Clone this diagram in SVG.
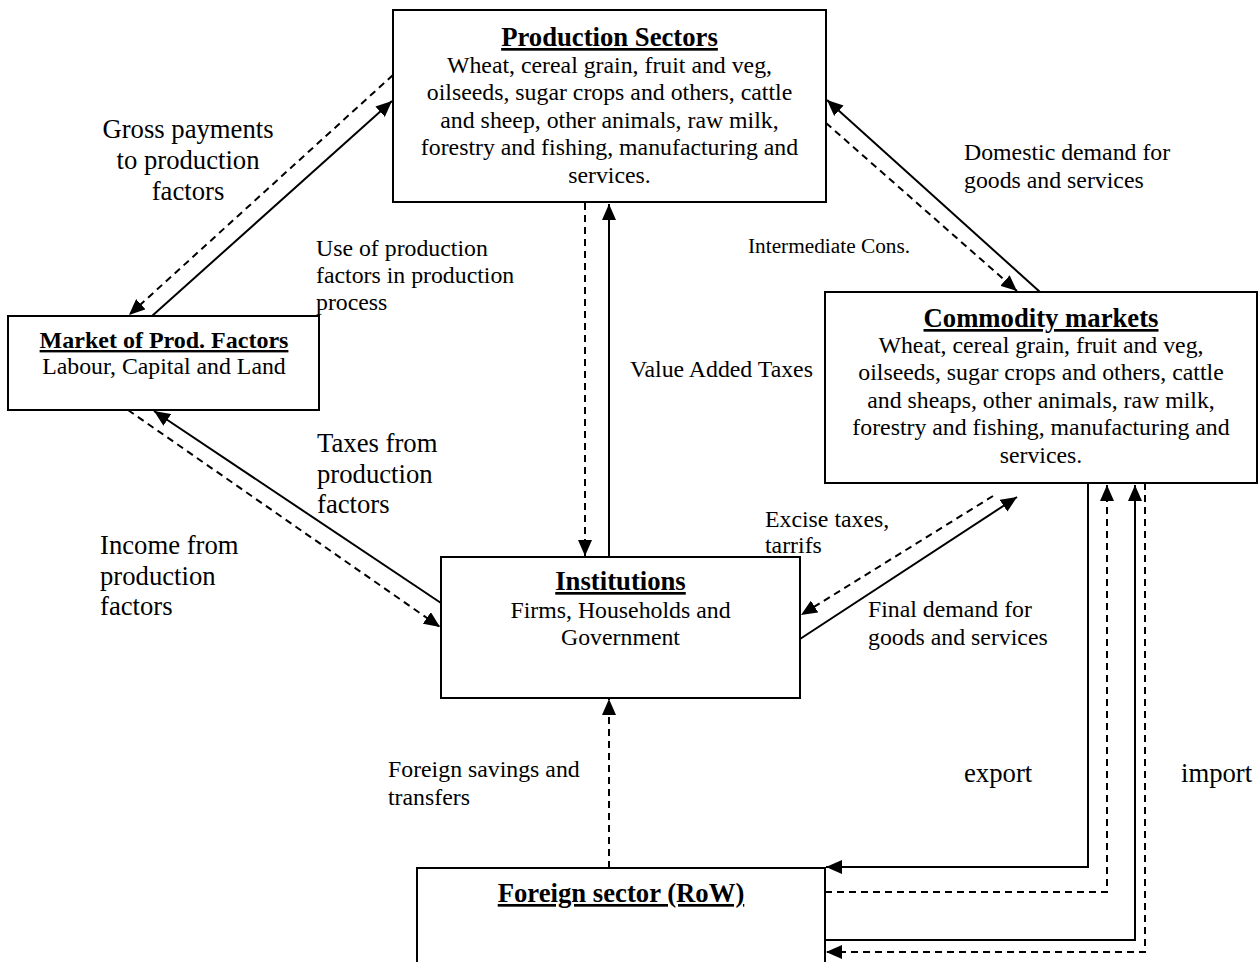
<svg xmlns="http://www.w3.org/2000/svg" width="1259" height="962" viewBox="0 0 1259 962">
<defs>
<style>
.box{fill:#fff;stroke:#000;stroke-width:2}
.ln{fill:none;stroke:#000;stroke-width:2}
.ds{fill:none;stroke:#000;stroke-width:2;stroke-dasharray:7,5}
text{font-family:"Liberation Serif","Times New Roman",serif;fill:#000}
.t{font-weight:bold;font-size:26.7px;text-decoration:underline}
.b{font-size:23.8px}
.l{font-size:26.7px}
.m{font-size:23.8px}
.s{font-size:21.3px}
</style>
<marker id="ah" markerUnits="userSpaceOnUse" markerWidth="18" markerHeight="14" refX="16" refY="7" orient="auto">
<path d="M0,0 L16,7 L0,14 z" fill="#000"/>
</marker>
</defs>
<rect width="1259" height="962" fill="#fff"/>
<g id="connectors">
<line class="ds" x1="393" y1="75" x2="129" y2="315" marker-end="url(#ah)"/>
<line class="ln" x1="152" y1="316" x2="392" y2="101" marker-end="url(#ah)"/>
<line class="ln" x1="1040" y1="292" x2="827" y2="100" marker-end="url(#ah)"/>
<line class="ds" x1="826" y1="123" x2="1017" y2="291" marker-end="url(#ah)"/>
<line class="ds" x1="585" y1="203" x2="585" y2="556" marker-end="url(#ah)"/>
<line class="ln" x1="609" y1="557" x2="609" y2="204" marker-end="url(#ah)"/>
<line class="ln" x1="441" y1="603" x2="154" y2="411" marker-end="url(#ah)"/>
<line class="ds" x1="128" y1="410" x2="440" y2="627" marker-end="url(#ah)"/>
<line class="ln" x1="800" y1="639" x2="1017" y2="497" marker-end="url(#ah)"/>
<line class="ds" x1="993" y1="496" x2="801" y2="615" marker-end="url(#ah)"/>
<polyline class="ln" points="1088,483 1088,867 826,867" marker-end="url(#ah)"/>
<polyline class="ds" points="825,892 1107,892 1107,485" marker-end="url(#ah)"/>
<polyline class="ln" points="825,940 1135,940 1135,485" marker-end="url(#ah)"/>
<polyline class="ds" points="1145,483 1145,952 826,952" marker-end="url(#ah)"/>
<line class="ds" x1="609" y1="868" x2="609" y2="699" marker-end="url(#ah)"/>
</g>
<g id="production">
<rect class="box" x="393" y="10" width="433" height="192"/>
<text class="t" x="609.5" y="46" text-anchor="middle">Production Sectors</text>
<text class="b" text-anchor="middle"><tspan x="609.5" y="73">Wheat, cereal grain, fruit and veg,</tspan><tspan x="609.5" y="100">oilseeds, sugar crops and others, cattle</tspan><tspan x="609.5" y="128">and sheep, other animals, raw milk,</tspan><tspan x="609.5" y="155">forestry and fishing, manufacturing and</tspan><tspan x="609.5" y="183">services.</tspan></text>
</g>
<g id="market">
<rect class="box" x="8" y="316" width="311" height="94"/>
<text class="t" x="164" y="348" text-anchor="middle" style="font-size:24px">Market of Prod. Factors</text>
<text class="b" x="164" y="374" text-anchor="middle">Labour, Capital and Land</text>
</g>
<g id="commodity">
<rect class="box" x="825" y="292" width="432" height="191"/>
<text class="t" x="1041" y="327" text-anchor="middle">Commodity markets</text>
<text class="b" text-anchor="middle"><tspan x="1041" y="353">Wheat, cereal grain, fruit and veg,</tspan><tspan x="1041" y="380">oilseeds, sugar crops and others, cattle</tspan><tspan x="1041" y="408">and sheaps, other animals, raw milk,</tspan><tspan x="1041" y="435">forestry and fishing, manufacturing and</tspan><tspan x="1041" y="463">services.</tspan></text>
</g>
<g id="institutions">
<rect class="box" x="441" y="557" width="359" height="141"/>
<text class="t" x="620.5" y="590" text-anchor="middle">Institutions</text>
<text class="b" text-anchor="middle"><tspan x="620.5" y="618">Firms, Households and</tspan><tspan x="620.5" y="645">Government</tspan></text>
</g>
<g id="foreign">
<rect class="box" x="417" y="868" width="408" height="110"/>
<text class="t" x="621" y="902" text-anchor="middle">Foreign sector (RoW)</text>
</g>
<g id="labels">
<text class="l" text-anchor="middle"><tspan x="188" y="138">Gross payments</tspan><tspan x="188" y="169">to production</tspan><tspan x="188" y="200">factors</tspan></text>
<text class="m"><tspan x="316" y="256">Use of production</tspan><tspan x="316" y="283">factors in production</tspan><tspan x="316" y="310">process</tspan></text>
<text class="m"><tspan x="964" y="160">Domestic demand for</tspan><tspan x="964" y="188">goods and services</tspan></text>
<text class="s" x="748" y="253">Intermediate Cons.</text>
<text class="m" x="630" y="377">Value Added Taxes</text>
<text class="l"><tspan x="317" y="452">Taxes from</tspan><tspan x="317" y="483">production</tspan><tspan x="317" y="513">factors</tspan></text>
<text class="l"><tspan x="100" y="554">Income from</tspan><tspan x="100" y="585">production</tspan><tspan x="100" y="615">factors</tspan></text>
<text class="m"><tspan x="765" y="527">Excise taxes,</tspan><tspan x="765" y="553">tarrifs</tspan></text>
<text class="m"><tspan x="868" y="617">Final demand for</tspan><tspan x="868" y="645">goods and services</tspan></text>
<text class="l" x="964" y="782">export</text>
<text class="l" x="1181" y="782">import</text>
<text class="m"><tspan x="388" y="777">Foreign savings and</tspan><tspan x="388" y="805">transfers</tspan></text>
</g>
</svg>
